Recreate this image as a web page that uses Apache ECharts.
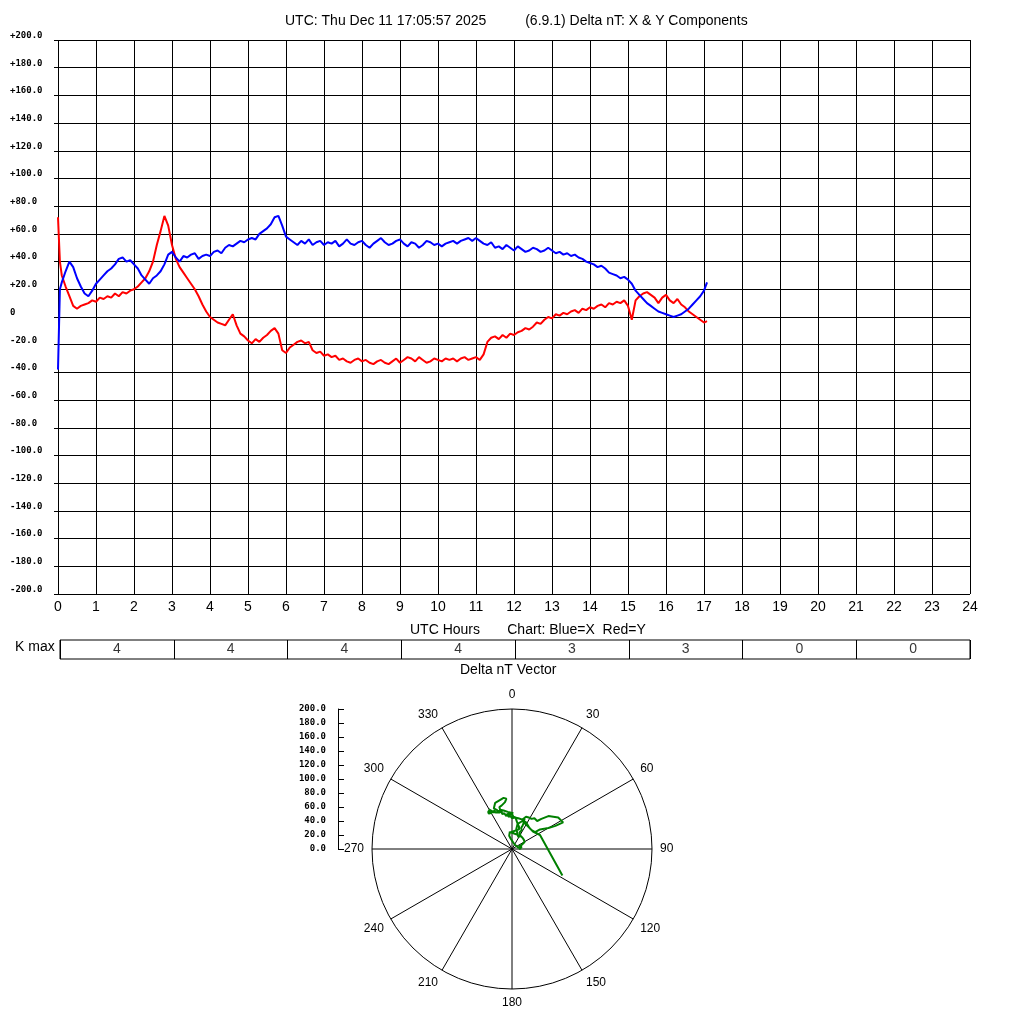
<!DOCTYPE html>
<html>
<head>
<meta charset="utf-8">
<script src="https://cdn.jsdelivr.net/npm/echarts@6/dist/echarts.min.js"></script>
<style>html,body{margin:0;padding:0;background:#fff}#chart{width:1024px;height:1024px}</style>
</head>
<body>
<div id="chart"></div>
<script>
var hours = [0, 0.05,
  0.1,0.2,0.3,0.4,0.5,0.6,0.7,0.8,0.9,1.0,1.1,1.2,1.3,1.4,1.5,1.6,1.7,1.8,1.9,2.0,
  2.1,2.2,2.3,2.4,2.5,2.6,2.7,2.8,2.9,3.0,3.1,3.2,3.3,3.4,3.5,3.6,3.7,3.8,3.9,4.0,
  4.1,4.2,4.3,4.4,4.5,4.6,4.7,4.8,4.9,5.0,5.1,5.2,5.3,5.4,5.5,5.6,5.7,5.8,5.9,6.0,
  6.1,6.2,6.3,6.4,6.5,6.6,6.7,6.8,6.9,7.0,7.1,7.2,7.3,7.4,7.5,7.6,7.7,7.8,7.9,8.0,
  8.1,8.2,8.3,8.4,8.5,8.6,8.7,8.8,8.9,9.0,9.1,9.2,9.3,9.4,9.5,9.6,9.7,9.8,9.9,10.0,
  10.1,10.2,10.3,10.4,10.5,10.6,10.7,10.8,10.9,11.0,11.1,11.2,11.3,11.4,11.5,11.6,11.7,11.8,11.9,12.0,
  12.1,12.2,12.3,12.4,12.5,12.6,12.7,12.8,12.9,13.0,13.1,13.2,13.3,13.4,13.5,13.6,13.7,13.8,13.9,14.0,
  14.1,14.2,14.3,14.4,14.5,14.6,14.7,14.8,14.9,15.0,15.1,15.2,15.3,15.4,15.5,15.6,15.7,15.8,15.9,16.0,
  16.1,16.2,16.3,16.4,16.5,16.6,16.7,16.8,16.9,17.0,17.08];

// Blue = X component (nT)
var xVals = [-38, 20,
  25,33,40,36,28,22,17,15,19,24,27,30,33,35,38,42,43,40,41,38,
  35,30,27,24,28,30,33,38,45,47,43,40,44,43,45,46,42,44,45,44,
  47,48,46,50,52,51,53,55,54,56,57,56,60,62,64,67,72,73,66,58,
  56,54,52,55,53,56,52,54,55,52,54,53,55,51,53,56,53,52,54,55,
  52,50,53,55,57,54,52,53,55,56,53,51,54,53,50,52,55,54,52,53,
  51,53,54,55,53,55,56,57,55,57,55,53,52,54,50,51,49,52,50,48,
  51,49,47,48,50,49,47,48,50,48,46,47,45,46,44,45,43,42,40,39,
  38,36,37,35,32,31,30,28,29,27,24,19,16,13,10,8,6,4,3,2,
  1,0,1,2,4,6,9,12,15,19,25];

// Red = Y component (nT)
var yVals = [72, 40,
  30,22,15,8,6,8,9,10,12,11,14,13,15,14,17,15,18,17,19,20,
  22,25,28,33,40,52,62,73,66,52,42,36,32,28,24,20,15,9,4,0,
  -2,-4,-5,-6,-2,2,-6,-12,-14,-17,-19,-16,-18,-15,-13,-10,-8,-12,-24,-26,
  -22,-20,-18,-17,-19,-18,-24,-26,-25,-28,-27,-29,-28,-31,-30,-32,-33,-31,-30,-32,
  -31,-33,-34,-32,-31,-33,-34,-32,-30,-33,-31,-29,-30,-32,-29,-31,-33,-32,-30,-31,
  -32,-30,-31,-30,-32,-30,-29,-31,-30,-29,-31,-27,-18,-15,-14,-16,-13,-15,-12,-13,
  -11,-10,-8,-9,-7,-4,-5,-2,0,-1,2,1,3,2,4,5,3,6,5,7,
  6,8,9,7,10,9,11,10,12,8,-2,12,15,17,18,16,14,10,14,16,
  12,10,13,9,7,4,2,0,-2,-4,-3];

var kValues = [4, 4, 4, 4, 3, 3, 0, 0];

var chart = echarts.init(document.getElementById('chart'));

var xSeries = hours.map(function (h, i) { return [h, xVals[i]]; });
var ySeries = hours.map(function (h, i) { return [h, yVals[i]]; });
var vecSeries = hours.map(function (h, i) {
  var r = Math.sqrt(xVals[i] * xVals[i] + yVals[i] * yVals[i]);
  var a = Math.atan2(yVals[i], xVals[i]) * 180 / Math.PI;
  if (a < 0) a += 360;
  return [r, a];
});
var kData = kValues.map(function (k, i) { return [i * 3 + 1.5, 0.5, k]; });

var monoBold = { fontFamily: 'DejaVu Sans Mono', fontWeight: 'bold', fontSize: 9, color: '#000' };
var sans = 'Liberation Sans';

option = {
  backgroundColor: '#fff',
  animation: false,
  textStyle: { fontFamily: sans },
  graphic: [
    { type: 'text', left: 285, top: 14, style: { text: 'UTC: Thu Dec 11 17:05:57 2025          (6.9.1) Delta nT: X & Y Components', font: '14px Liberation Sans', fill: '#000' } },
    { type: 'text', left: 410, top: 623, style: { text: 'UTC Hours       Chart: Blue=X  Red=Y', font: '14px Liberation Sans', fill: '#000' } },
    { type: 'text', left: 15, top: 640, style: { text: 'K max', font: '14px Liberation Sans', fill: '#000' } },
    { type: 'text', left: 460, top: 663, style: { text: 'Delta nT Vector', font: '14px Liberation Sans', fill: '#000' } }
  ],
  grid: [
    { left: 58, top: 40, width: 912, height: 554 },
    { left: 60, top: 640, width: 910, height: 19, show: true, borderColor: '#000', borderWidth: 1 },
    { left: 338, top: 709, width: 1, height: 140 }
  ],
  xAxis: [
    {
      gridIndex: 0, type: 'value', min: 0, max: 24, interval: 1,
      axisLine: { lineStyle: { color: '#000' } },
      axisTick: { show: true, length: 4, lineStyle: { color: '#000' } },
      splitLine: { show: true, lineStyle: { color: '#000', width: 1 } },
      axisLabel: { color: '#000', fontSize: 14, fontFamily: sans, margin: 6 }
    },
    {
      gridIndex: 1, type: 'value', min: 0, max: 24, interval: 3,
      axisLine: { show: false }, axisTick: { show: false }, axisLabel: { show: false },
      splitLine: { show: true, lineStyle: { color: '#000', width: 1 } }
    },
    {
      gridIndex: 2, type: 'value', show: false
    }
  ],
  yAxis: [
    {
      gridIndex: 0, type: 'value', min: -200, max: 200, interval: 20,
      axisLine: { show: false },
      axisTick: { show: true, length: 4, lineStyle: { color: '#000' } },
      splitLine: { show: true, lineStyle: { color: '#000', width: 1 } },
      axisLabel: Object.assign({
        align: 'left', margin: 48, verticalAlign: 'bottom',
        formatter: function (v) { return v > 0 ? '+' + v.toFixed(1) : (v === 0 ? '0' : v.toFixed(1)); }
      }, monoBold)
    },
    {
      gridIndex: 1, type: 'value', min: 0, max: 1, show: false
    },
    {
      gridIndex: 2, type: 'value', min: 0, max: 200, interval: 20, position: 'left',
      axisLine: { show: true, lineStyle: { color: '#000' } },
      axisTick: { show: true, inside: true, length: 6, lineStyle: { color: '#000' } },
      splitLine: { show: false },
      axisLabel: Object.assign({
        margin: 12, formatter: function (v) { return v.toFixed(1); }
      }, monoBold)
    }
  ],
  polar: { center: [512, 849], radius: 140 },
  angleAxis: {
    type: 'value', min: 0, max: 360, interval: 30, startAngle: 90, clockwise: true,
    axisLine: { lineStyle: { color: '#000', width: 1 } },
    axisTick: { show: false },
    splitLine: { show: true, lineStyle: { color: '#000', width: 1 } },
    axisLabel: { color: '#000', fontSize: 12, fontFamily: sans, margin: 8,
      formatter: function (v) { return v === 360 ? '' : String(v); } }
  },
  radiusAxis: {
    type: 'value', min: 0, max: 200,
    axisLine: { show: false }, axisTick: { show: false }, axisLabel: { show: false },
    splitLine: { show: false }
  },
  series: [
    {
      name: 'Y', type: 'line', xAxisIndex: 0, yAxisIndex: 0, data: ySeries,
      showSymbol: false, symbol: 'none', lineStyle: { color: '#ff0000', width: 2 }
    },
    {
      name: 'X', type: 'line', xAxisIndex: 0, yAxisIndex: 0, data: xSeries,
      showSymbol: false, symbol: 'none', lineStyle: { color: '#0000ff', width: 2 }
    },
    {
      name: 'K', type: 'scatter', xAxisIndex: 1, yAxisIndex: 1, data: kData,
      symbolSize: 0,
      label: { show: true, position: 'inside', color: '#000', fontSize: 14, fontFamily: sans,
        formatter: function (p) { return String(p.value[2]); } }
    },
    {
      name: 'Vector', type: 'line', coordinateSystem: 'polar', data: vecSeries,
      showSymbol: false, symbol: 'none', lineStyle: { color: '#008000', width: 2 }
    }
  ]
};

chart.setOption(option);
</script>
</body>
</html>
